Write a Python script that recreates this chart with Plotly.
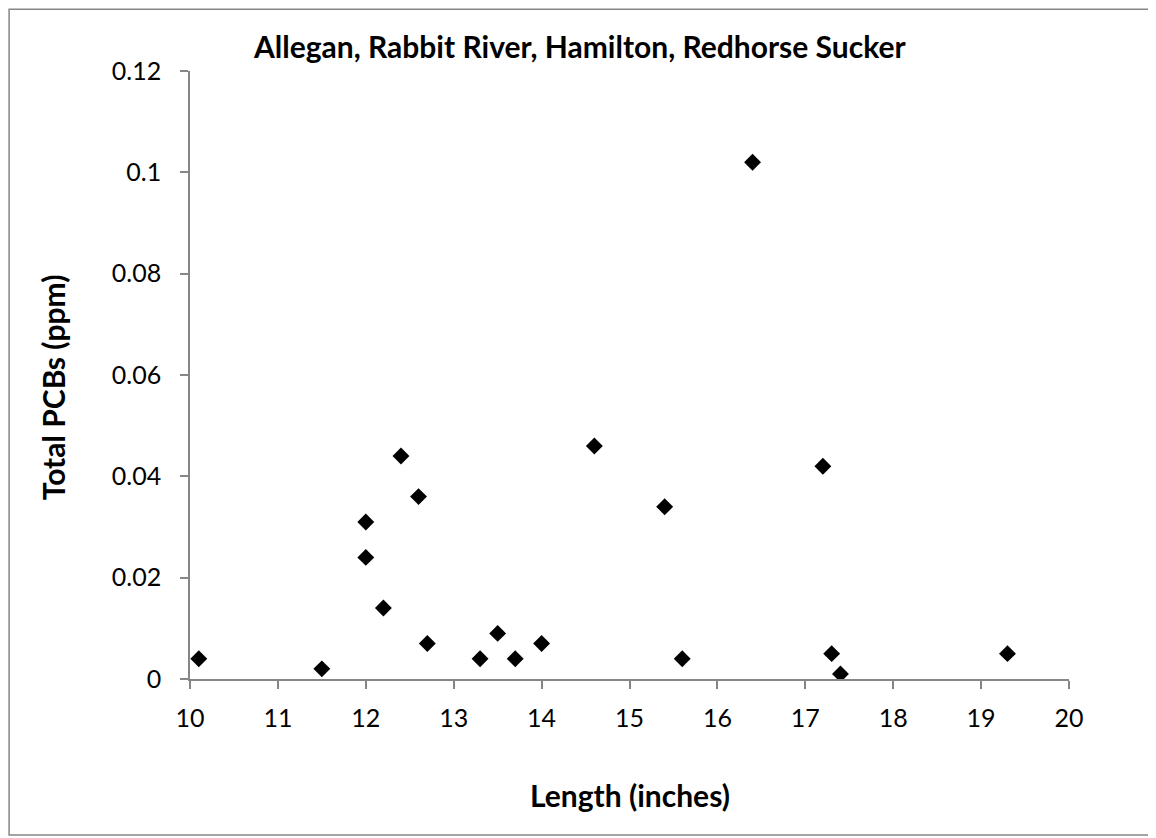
import plotly.graph_objects as go

# Fish length (inches) vs total PCBs (ppm)
length_in = [10.1, 11.5, 12.0, 12.0, 12.2, 12.4, 12.6, 12.7, 13.3, 13.5,
             13.7, 14.0, 14.6, 15.4, 15.6, 16.4, 17.2, 17.3, 17.4, 19.3]
pcb_ppm = [0.004, 0.002, 0.031, 0.024, 0.014, 0.044, 0.036, 0.007, 0.004, 0.009,
           0.004, 0.007, 0.046, 0.034, 0.004, 0.102, 0.042, 0.005, 0.001, 0.005]

chart_title = "Allegan, Rabbit River, Hamilton, Redhorse Sucker"
x_title = "Length (inches)"
y_title = "Total PCBs (ppm)"

# the page body has an 8px margin, so the figure is sized to fit the window
OFF = 8
W, H = 1156 - OFF, 838 - OFF
L, R, T, B = 182, 86.5, 62.7, 159
pw, ph = W - L - R, H - T - B

FONT = "Lato, Carlito, Calibri, sans-serif"
AXIS_GREY = "#868686"


def px(x):
    """page x pixel -> paper coordinate"""
    return (x - OFF - L) / pw


def py(y):
    """page y pixel -> paper coordinate"""
    return (H - B - (y - OFF)) / ph


fig = go.Figure(go.Scatter(
    x=length_in, y=pcb_ppm,
    mode="markers",
    marker=dict(symbol="diamond", size=13, color="black"),
    showlegend=False,
))

fig.update_xaxes(
    range=[10, 20], dtick=1, tick0=10,
    showgrid=False, zeroline=False,
    showline=True, linecolor=AXIS_GREY, linewidth=1.5,
    ticks="outside", ticklen=8, tickcolor=AXIS_GREY, tickwidth=1.5,
    tickfont=dict(family=FONT, size=25, color="black"),
    ticklabelstandoff=8,
)
fig.update_yaxes(
    range=[0, 0.12], dtick=0.02, tick0=0,
    showgrid=False, zeroline=False,
    showline=True, linecolor=AXIS_GREY, linewidth=1.5,
    ticks="outside", ticklen=8, tickcolor=AXIS_GREY, tickwidth=1.5,
    tickfont=dict(family=FONT, size=25, color="black"),
    ticklabelstandoff=14,
)

annotations = [
    dict(text="<b>%s</b>" % chart_title, x=px(580), y=py(46),
         xref="paper", yref="paper", xanchor="center", yanchor="middle",
         showarrow=False, font=dict(family=FONT, size=30, color="black")),
    dict(text="<b>%s</b>" % x_title, x=px(630), y=py(795),
         xref="paper", yref="paper", xanchor="center", yanchor="middle",
         showarrow=False, font=dict(family=FONT, size=30, color="black")),
    dict(text="<b>%s</b>" % y_title, x=px(53), y=py(387),
         xref="paper", yref="paper", xanchor="center", yanchor="middle",
         textangle=-90, showarrow=False, font=dict(family=FONT, size=30, color="black")),
]

# chart-area border
border = dict(type="rect", xref="paper", yref="paper",
              x0=px(OFF + 1), x1=px(1155), y0=py(835), y1=py(OFF + 1),
              line=dict(color=AXIS_GREY, width=1.5), fillcolor="rgba(0,0,0,0)")

fig.update_layout(
    width=W, height=H,
    margin=dict(l=L, r=R, t=T, b=B),
    plot_bgcolor="white", paper_bgcolor="white",
    annotations=annotations,
    shapes=[border],
)

fig.write_html("out.html")
